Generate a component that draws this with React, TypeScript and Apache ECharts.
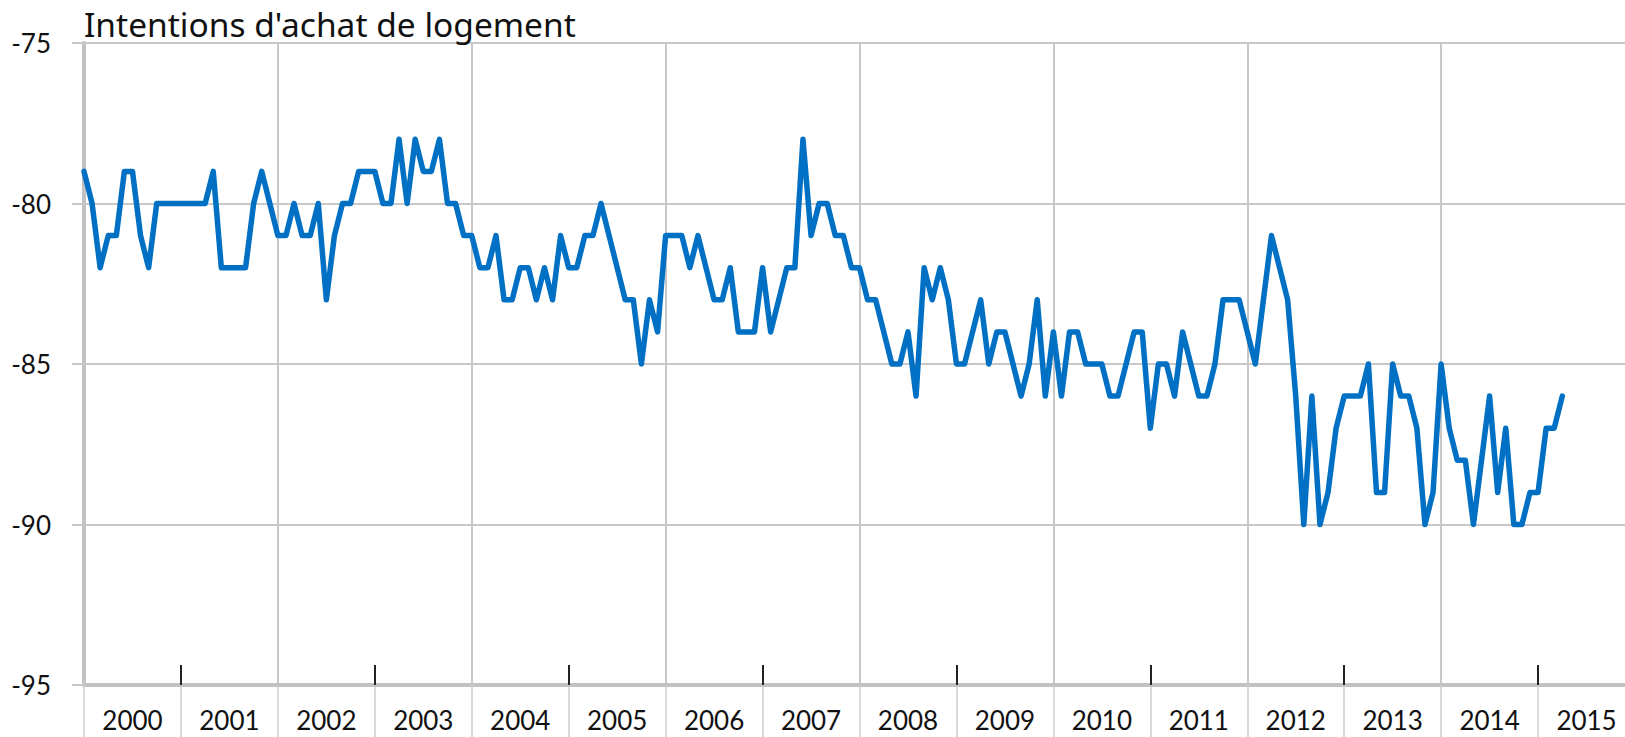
import React, { useEffect, useRef } from "react";
import * as echarts from "echarts";

const title = "Intentions d'achat de logement";
const years = ["2000", "2001", "2002", "2003", "2004", "2005", "2006", "2007", "2008", "2009", "2010", "2011", "2012", "2013", "2014", "2015"];
const yTicks = [-95, -90, -85, -80, -75];

const v2000 = [-79, -80, -82, -81, -81, -79, -79, -81, -82, -80, -80, -80];
const v2001 = [-80, -80, -80, -80, -79, -82, -82, -82, -82, -80, -79, -80];
const v2002 = [-81, -81, -80, -81, -81, -80, -83, -81, -80, -80, -79, -79];
const v2003 = [-79, -80, -80, -78, -80, -78, -79, -79, -78, -80, -80, -81];
const v2004 = [-81, -82, -82, -81, -83, -83, -82, -82, -83, -82, -83, -81];
const v2005 = [-82, -82, -81, -81, -80, -81, -82, -83, -83, -85, -83, -84];
const v2006 = [-81, -81, -81, -82, -81, -82, -83, -83, -82, -84, -84, -84];
const v2007 = [-82, -84, -83, -82, -82, -78, -81, -80, -80, -81, -81, -82];
const v2008 = [-82, -83, -83, -84, -85, -85, -84, -86, -82, -83, -82, -83];
const v2009 = [-85, -85, -84, -83, -85, -84, -84, -85, -86, -85, -83, -86];
const v2010 = [-84, -86, -84, -84, -85, -85, -85, -86, -86, -85, -84, -84];
const v2011 = [-87, -85, -85, -86, -84, -85, -86, -86, -85, -83, -83, -83];
const v2012 = [-84, -85, -83, -81, -82, -83, -86, -90, -86, -90, -89, -87];
const v2013 = [-86, -86, -86, -85, -89, -89, -85, -86, -86, -87, -90, -89];
const v2014 = [-85, -87, -88, -88, -90, -88, -86, -89, -87, -90, -90, -89];
const v2015 = [-89, -87, -87, -86];

const values = [
  ...v2000, ...v2001, ...v2002, ...v2003, ...v2004, ...v2005, ...v2006, ...v2007,
  ...v2008, ...v2009, ...v2010, ...v2011, ...v2012, ...v2013, ...v2014, ...v2015,
];

const FONT = "Lato, 'Noto Sans', sans-serif";
const TITLE_FONT = "'Noto Sans', Lato, sans-serif";

export default function App() {
  const ref = useRef<HTMLDivElement>(null);
  useEffect(() => {
    if (!ref.current) return;
    const chart = echarts.init(ref.current, undefined, { renderer: "svg" });
    const nMonths = years.length * 12;
    const yearStarts = years.map((_, i) => i * 12);
    const oddStarts = yearStarts.filter((_, i) => i % 2 === 1);
    const allStarts = [...yearStarts, nMonths];
    const mids = years.map((_, i) => i * 12 + 6);
    const base = {
      type: "value" as const,
      min: 0,
      max: nMonths,
      position: "bottom" as const,
      gridIndex: 0,
    };
    chart.setOption({
      animation: false,
      backgroundColor: "#ffffff",
      title: {
        text: title,
        left: 84,
        top: 7,
        padding: 0,
        textStyle: { fontFamily: TITLE_FONT, fontSize: 33.5, fontWeight: "normal", color: "#111111" },
      },
      grid: {
        left: 84,
        top: 43,
        right: 65,
        bottom: 75,
        containLabel: false,
        outerBoundsMode: "none",
      },
      xAxis: [
        {
          ...base,
          interval: 24,
          axisLine: { show: true, lineStyle: { color: "#c2c2c2", width: 4 } },
          axisTick: { show: false },
          axisLabel: { show: false },
          splitLine: { show: true, lineStyle: { color: "#c8c8c8", width: 2 } },
        },
        {
          ...base,
          axisLine: { show: false },
          axisTick: {
            show: true,
            inside: true,
            length: 20,
            customValues: oddStarts,
            lineStyle: { color: "#222222", width: 2 },
          },
          axisLabel: { show: false },
          splitLine: { show: false },
        },
        {
          ...base,
          axisLine: { show: false },
          axisTick: {
            show: true,
            inside: false,
            length: 60,
            customValues: allStarts,
            lineStyle: { color: "#cccccc", width: 1.5 },
          },
          axisLabel: {
            show: true,
            customValues: mids,
            formatter: (v: number) => years[Math.round((v - 6) / 12)] ?? "",
            fontFamily: FONT,
            fontSize: 26,
            color: "#111111",
            margin: 22,
          },
          splitLine: { show: false },
        },
      ],
      yAxis: {
        type: "value",
        min: yTicks[0],
        max: yTicks[yTicks.length - 1],
        interval: 5,
        axisLine: { show: true, lineStyle: { color: "#c2c2c2", width: 4 } },
        axisTick: { show: true, length: 12, lineStyle: { color: "#c8c8c8", width: 2 } },
        axisLabel: { fontFamily: FONT, fontSize: 26, color: "#111111", margin: 33 },
        splitLine: { show: true, lineStyle: { color: "#c8c8c8", width: 2 } },
      },
      series: [
        {
          type: "line",
          xAxisIndex: 0,
          data: values.map((v, i) => [i, v]),
          showSymbol: false,
          symbol: "none",
          lineStyle: { color: "#0070c4", width: 5.5, cap: "round", join: "round" },
          emphasis: { disabled: true },
        },
      ],
    });
    return () => chart.dispose();
  }, []);
  return (
    <div style={{ position: "fixed", left: 0, top: 0, width: 1625, height: 737, overflow: "hidden", background: "#fff" }}>
      <div ref={ref} style={{ width: 1700, height: 760 }} />
    </div>
  );
}
